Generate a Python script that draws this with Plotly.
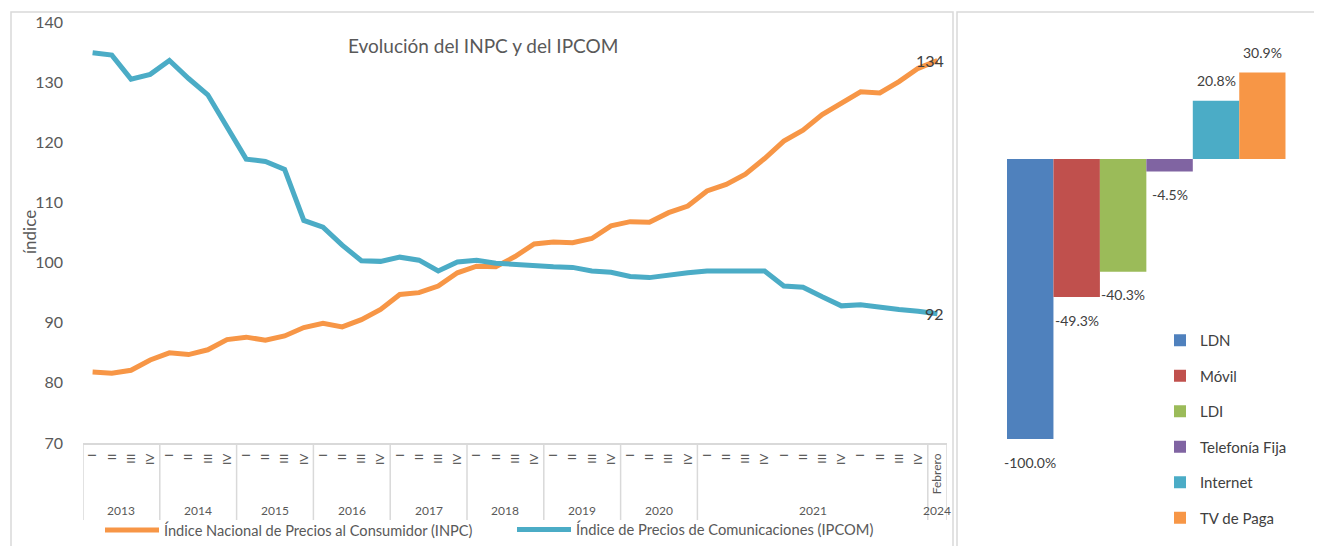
import plotly.graph_objects as go

# ---------------- data ----------------
quarters = (["I", "II", "III", "IV"] * 11) + ["Febrero"]
year_labels = ["2013", "2014", "2015", "2016", "2017", "2018", "2019", "2020", "2021", "2024"]
year_counts = [4, 4, 4, 4, 4, 4, 4, 4, 12, 1]

inpc = [81.8, 81.6, 82.1, 83.8, 85.0, 84.7, 85.5, 87.2, 87.6, 87.1, 87.8, 89.2,
        89.9, 89.3, 90.5, 92.2, 94.7, 95.0, 96.1, 98.3, 99.4, 99.3, 101.0, 103.1,
        103.4, 103.3, 104.0, 106.1, 106.8, 106.7, 108.3, 109.4, 111.9, 113.0, 114.7, 117.3,
        120.2, 122.0, 124.6, 126.6, 128.4, 128.2, 130.1, 132.3, 133.6]
ipcom = [134.9, 134.5, 130.5, 131.3, 133.6, 130.6, 127.9, 122.5, 117.2, 116.8, 115.5, 107.0,
         105.9, 102.9, 100.3, 100.2, 100.9, 100.4, 98.6, 100.1, 100.4, 99.9, 99.7, 99.3,
         99.3, 99.2, 98.6, 98.4, 97.7, 97.5, 98.0, 98.3, 98.6, 98.6, 98.7, 98.6,
         96.1, 95.9, 94.3, 92.8, 93.0, 92.5, 92.2, 91.9, 91.5]

services = ["LDN", "Móvil", "LDI", "Telefonía Fija", "Internet", "TV de Paga"]
changes = [-100.0, -49.3, -40.3, -4.5, 20.8, 30.9]
bar_colors = ["#4F81BD", "#C0504D", "#9BBB59", "#8064A2", "#4BACC6", "#F79646"]

# ---------------- figure ----------------
W, H = 1322, 546
OX, OY = 8, 8  # page body offset
FONT = "Lato"
GRAY = "#595959"
DARK = "#404040"
LINEC = "#D9D9D9"


def px_x(p):
    return (p - OX) / W


def px_y(p):
    return 1 - (p - OY) / H


fig = go.Figure()
idx = list(range(len(quarters)))

fig.add_trace(go.Scatter(x=idx, y=inpc, mode="lines", name="Índice Nacional de Precios al Consumidor (INPC)",
                         line=dict(color="#F79646", width=5), legend="legend", showlegend=True))
fig.add_trace(go.Scatter(x=idx, y=ipcom, mode="lines", name="Índice de Precios de Comunicaciones (IPCOM)",
                         line=dict(color="#4BACC6", width=5), legend="legend2", showlegend=True))

for i, (s, v, c) in enumerate(zip(services, changes, bar_colors)):
    fig.add_trace(go.Bar(x=[i], y=[v], width=1, name=s, marker=dict(color=c, line=dict(width=0)),
                         xaxis="x2", yaxis="y2", legend="legend3", legendgroup=s, showlegend=True))

annotations = []
# end labels
for series in (inpc, ipcom):
    annotations.append(dict(x=idx[-1], y=series[-1], xref="x", yref="y", text=f"{round(series[-1])}",
                            showarrow=False, xanchor="right", yanchor="middle", xshift=9,
                            font=dict(family=FONT, size=16, color=DARK)))
# bar labels
for i, v in enumerate(changes):
    annotations.append(dict(x=i, y=v, xref="x2", yref="y2", text=f"{v:.1f}%", showarrow=False,
                            xanchor="center", yanchor="middle",
                            yshift=20 if v > 0 else -23, font=dict(family=FONT, size=14, color=DARK)))
# year labels and dividers
shapes = []
start = 0
for lab, n in zip(year_labels, year_counts):
    annotations.append(dict(x=start - 0.5 + n / 2, y=px_y(511), xref="x", yref="paper", text=lab,
                            showarrow=False, xanchor="center", yanchor="middle",
                            font=dict(family=FONT, size=12, color=GRAY)))
    start += n
pos = -0.5
shapes.append(dict(type="line", xref="x", yref="paper", x0=pos, x1=pos, y0=px_y(443), y1=px_y(520),
                   line=dict(color=LINEC, width=1.5)))
for n in year_counts:
    pos += n
    shapes.append(dict(type="line", xref="x", yref="paper", x0=pos, x1=pos, y0=px_y(443), y1=px_y(520),
                       line=dict(color=LINEC, width=1.5)))
# panel borders
shapes.append(dict(type="rect", xref="paper", yref="paper", x0=px_x(11), x1=px_x(953), y0=-0.2, y1=px_y(12),
                   line=dict(color=LINEC, width=1.5), layer="below"))
shapes.append(dict(type="rect", xref="paper", yref="paper", x0=px_x(957), x1=1.2, y0=-0.2, y1=px_y(12),
                   line=dict(color=LINEC, width=1.5), layer="below"))

annotations.append(dict(x=px_x(483), y=px_y(46), xref="paper", yref="paper", text="Evolución del INPC y del IPCOM",
                        showarrow=False, xanchor="center", yanchor="middle",
                        font=dict(family=FONT, size=19, color=GRAY)))
annotations.append(dict(x=px_x(29), y=px_y(232), xref="paper", yref="paper", text="índice", textangle=-90,
                        showarrow=False, xanchor="center", yanchor="middle",
                        font=dict(family=FONT, size=17, color=GRAY)))

fig.update_layout(
    width=W, height=H, margin=dict(l=0, r=0, t=0, b=0, autoexpand=False),
    paper_bgcolor="white", plot_bgcolor="white",
    font=dict(family=FONT, color=GRAY),
    barmode="overlay", showlegend=True,
    xaxis=dict(domain=[px_x(83), px_x(947)], range=[-0.5, len(quarters) - 0.5], tickmode="array",
               tickvals=idx, ticktext=quarters, tickangle=-90, showgrid=False, zeroline=False,
               showline=True, linecolor=LINEC, linewidth=1.5, ticks="", ticklabelstandoff=4,
               tickfont=dict(family=FONT, size=12, color=GRAY), fixedrange=True),
    yaxis=dict(domain=[px_y(443), px_y(22)], range=[70, 140], dtick=10, showgrid=False, zeroline=False,
               showline=False, ticks="", ticklabelstandoff=19,
               tickfont=dict(family=FONT, size=16, color=GRAY)),
    xaxis2=dict(domain=[px_x(1007), px_x(1285.7)], range=[-0.5, 5.5], visible=False, anchor="y2"),
    yaxis2=dict(domain=[px_y(453), px_y(33)], range=[-105, 45], visible=False, anchor="x2"),
    legend=dict(orientation="h", x=px_x(100), y=px_y(530), xanchor="left", yanchor="middle",
                itemwidth=54, font=dict(family=FONT, size=14.6, color=GRAY), bgcolor="rgba(0,0,0,0)"),
    legend2=dict(orientation="h", x=px_x(512), y=px_y(530), xanchor="left", yanchor="middle",
                 itemwidth=54, font=dict(family=FONT, size=14.7, color=GRAY), bgcolor="rgba(0,0,0,0)"),
    legend3=dict(orientation="v", x=px_x(1160), y=px_y(324), xanchor="left", yanchor="top",
                 tracegroupgap=13, font=dict(family=FONT, size=15, color=DARK), bgcolor="rgba(0,0,0,0)"),
    annotations=annotations, shapes=shapes,
)

fig.write_html("out.html")
